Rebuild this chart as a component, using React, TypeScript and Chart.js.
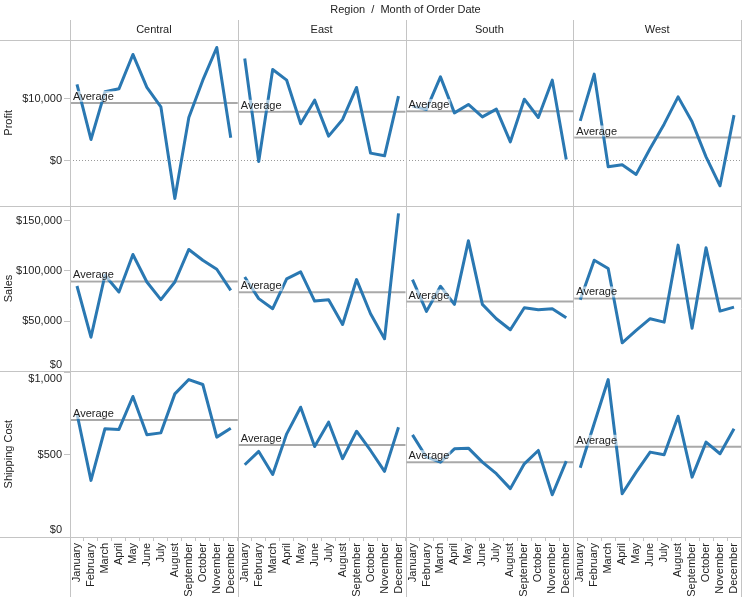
import React, { useEffect, useRef } from 'react';
import { Chart, registerables } from 'chart.js';

Chart.register(...registerables);

const FONT = '"Liberation Sans", Arial, Helvetica, sans-serif';
const TEXT = '#222222';
const LINE = '#2a78b2';
const BORDER = '#c4c4c4';
const AVG = '#a9a9a9';

const chartTitle = 'Region  /  Month of Order Date';
const regions = ['Central', 'East', 'South', 'West'];
const measures = ['Profit', 'Sales', 'Shipping Cost'];
const months = ['January', 'February', 'March', 'April', 'May', 'June', 'July', 'August', 'September', 'October', 'November', 'December'];

// Profit by month
const profitCentral = [12260, 3430, 11080, 11560, 17080, 11780, 8670, -6040, 6960, 12950, 18200, 3690];
const profitEast = [16440, -100, 14670, 12950, 5940, 9740, 3960, 6640, 11780, 1240, 800, 10380];
const profitSouth = [8780, 8250, 13480, 7700, 9050, 7060, 8300, 3050, 9900, 6960, 12950, 220];
const profitWest = [6420, 13920, -960, -640, -2180, 1990, 5890, 10270, 6260, 640, -4010, 7340];

// Sales by month
const salesCentral = [85000, 34000, 95700, 79000, 116400, 89000, 71400, 89000, 121400, 110700, 101700, 80700];
const salesEast = [94000, 72400, 62400, 92000, 99000, 70000, 71400, 46700, 91400, 57400, 32400, 157400];
const salesSouth = [91400, 59700, 84700, 66700, 130000, 66700, 52400, 41400, 63400, 61400, 62400, 53400];
const salesWest = [71400, 110700, 102400, 28400, 40700, 52400, 49000, 125700, 43000, 123000, 60000, 64000];

// Shipping cost by month
const shipCentral = [749, 344, 658, 654, 854, 621, 633, 870, 957, 927, 607, 661];
const shipEast = [439, 520, 380, 627, 789, 550, 698, 476, 643, 526, 399, 667];
const shipSouth = [621, 485, 455, 536, 540, 455, 385, 294, 445, 526, 257, 461];
const shipWest = [421, 690, 957, 263, 394, 516, 500, 734, 364, 577, 506, 658];

// Axis ranges and ticks
const profitRange = [-7200, 19400];
const salesRange = [0, 165000];
const shipRange = [0, 1007];
const profitTicks = [0, 10000];
const salesTicks = [0, 50000, 100000, 150000];
const shipTicks = [0, 500, 1000];

const series = [
  [profitCentral, profitEast, profitSouth, profitWest],
  [salesCentral, salesEast, salesSouth, salesWest],
  [shipCentral, shipEast, shipSouth, shipWest],
];
const ranges = [profitRange, salesRange, shipRange];
const tickSets = [profitTicks, salesTicks, shipTicks];

const mean = (a: number[]) => a.reduce((s, v) => s + v, 0) / a.length;
const money = (v: number) => '$' + Math.round(v).toLocaleString('en-US');

const font = { family: FONT, size: 11 };

function buildScales() {
  const scales: any = {};
  regions.forEach((_, i) => {
    scales['x' + i] = {
      type: 'category',
      labels: months,
      position: 'bottom',
      stack: 'cols',
      offset: true,
      grid: {
        display: true,
        offset: true,
        drawOnChartArea: false,
        drawTicks: true,
        tickLength: 4,
        tickColor: BORDER,
        color: BORDER,
      },
      border: { display: false },
      ticks: {
        autoSkip: false,
        minRotation: 90,
        maxRotation: 90,
        padding: 2,
        color: TEXT,
        font,
      },
      afterFit: (s: any) => {
        s.height = 60;
        s.paddingLeft = 0;
        s.paddingRight = 0;
      },
    };
  });
  measures.forEach((m, j) => {
    scales['y' + j] = {
      type: 'linear',
      position: 'left',
      stack: 'rows',
      weight: measures.length - j,
      min: ranges[j][0],
      max: ranges[j][1],
      grid: {
        display: true,
        drawOnChartArea: j === 0,
        drawTicks: true,
        tickLength: 6,
        tickColor: BORDER,
        lineWidth: 1,
        color: (c: any) => (c.tick && c.tick.value === 0 ? '#9a9a9a' : 'rgba(0,0,0,0)'),
      },
      border: { display: false, dash: [1, 2] },
      ticks: {
        padding: 2,
        color: TEXT,
        font,
        callback: function (this: any, value: any) {
          const label = money(Number(value));
          const span = this.max - this.min;
          if (Number(value) <= this.min) return [label, ''];
          if (this.max - Number(value) < span * 0.04) return ['', label];
          return label;
        },
      },
      title: {
        display: true,
        text: m,
        color: TEXT,
        font,
        padding: { top: 2, bottom: 0 },
      },
      afterBuildTicks: (s: any) => {
        s.ticks = tickSets[j].map((v) => ({ value: v }));
      },
      afterFit: (s: any) => {
        s.width = 70;
        s.paddingTop = 0;
        s.paddingBottom = 0;
      },
    };
  });
  return scales;
}

function buildDatasets() {
  const ds: any[] = [];
  series.forEach((row, j) =>
    row.forEach((vals, i) => {
      ds.push({
        label: measures[j] + ' ' + regions[i],
        data: vals,
        xAxisID: 'x' + i,
        yAxisID: 'y' + j,
        borderColor: LINE,
        backgroundColor: LINE,
        borderWidth: 3,
        pointRadius: 0,
        pointHoverRadius: 0,
        fill: false,
        tension: 0,
        borderJoinStyle: 'round',
        borderCapStyle: 'butt',
      });
    })
  );
  return ds;
}

const panelPlugin = {
  id: 'panels',
  beforeDatasetsDraw(chart: any) {
    const ctx = chart.ctx;
    const xs = regions.map((_, i) => chart.scales['x' + i]);
    const ys = measures.map((_, j) => chart.scales['y' + j]);
    const top = chart.chartArea.top;
    ctx.save();
    ctx.strokeStyle = BORDER;
    ctx.lineWidth = 1;
    const hys = [ys[0].top, ...ys.map((s: any) => s.bottom)];
    hys.forEach((y: number) => {
      const yy = Math.round(y) + 0.5;
      ctx.beginPath();
      ctx.moveTo(0, yy);
      ctx.lineTo(chart.width, yy);
      ctx.stroke();
    });
    const vxs = [xs[0].left, ...xs.map((s: any) => s.right)];
    vxs.forEach((x: number) => {
      const xx = Math.min(Math.round(x) + 0.5, chart.width - 0.5);
      ctx.beginPath();
      ctx.moveTo(xx, top - 20);
      ctx.lineTo(xx, chart.height);
      ctx.stroke();
    });

    // average reference lines
    ctx.strokeStyle = AVG;
    ctx.lineWidth = 2;
    series.forEach((row, j) =>
      row.forEach((vals, i) => {
        const y = ys[j].getPixelForValue(mean(vals));
        ctx.beginPath();
        ctx.moveTo(xs[i].left + 1, y);
        ctx.lineTo(xs[i].right, y);
        ctx.stroke();
      })
    );

    // headers
    ctx.fillStyle = TEXT;
    ctx.font = '11px ' + FONT;
    ctx.textAlign = 'center';
    ctx.textBaseline = 'middle';
    xs.forEach((s: any, i: number) => {
      ctx.fillText(regions[i], (s.left + s.right) / 2, top - 10);
    });
    ctx.fillText(chartTitle, (chart.chartArea.left + chart.chartArea.right) / 2, top - 30);
    ctx.restore();
  },
  afterDatasetsDraw(chart: any) {
    const ctx = chart.ctx;
    const xs = regions.map((_, i) => chart.scales['x' + i]);
    const ys = measures.map((_, j) => chart.scales['y' + j]);
    ctx.save();
    ctx.font = '11px ' + FONT;
    ctx.textAlign = 'left';
    ctx.textBaseline = 'alphabetic';
    const label = 'Average';
    const w = ctx.measureText(label).width;
    series.forEach((row, j) =>
      row.forEach((vals, i) => {
        const y = ys[j].getPixelForValue(mean(vals));
        const x = xs[i].left + 3;
        const base = y - 3;
        ctx.fillStyle = 'rgba(255,255,255,0.6)';
        ctx.fillRect(x - 1, base - 9, w + 2, 11);
        ctx.fillStyle = TEXT;
        ctx.fillText(label, x, base);
      })
    );
    ctx.restore();
  },
};

export default function App() {
  const ref = useRef<HTMLCanvasElement>(null);
  useEffect(() => {
    document.body.style.margin = '0';
    Chart.defaults.font.family = FONT;
    const chart = new Chart(ref.current as HTMLCanvasElement, {
      type: 'line',
      data: { labels: months, datasets: buildDatasets() },
      options: {
        animation: false,
        responsive: true,
        maintainAspectRatio: false,
        events: [],
        layout: { padding: { top: 40, right: 1, left: 0, bottom: 0 } },
        plugins: {
          legend: { display: false },
          tooltip: { enabled: false },
          title: { display: false },
        },
        scales: buildScales(),
      },
      plugins: [panelPlugin],
    } as any);
    return () => chart.destroy();
  }, []);
  return (
    <div style={{ width: 742, height: 597, position: 'relative', background: '#fff' }}>
      <canvas ref={ref} />
    </div>
  );
}
